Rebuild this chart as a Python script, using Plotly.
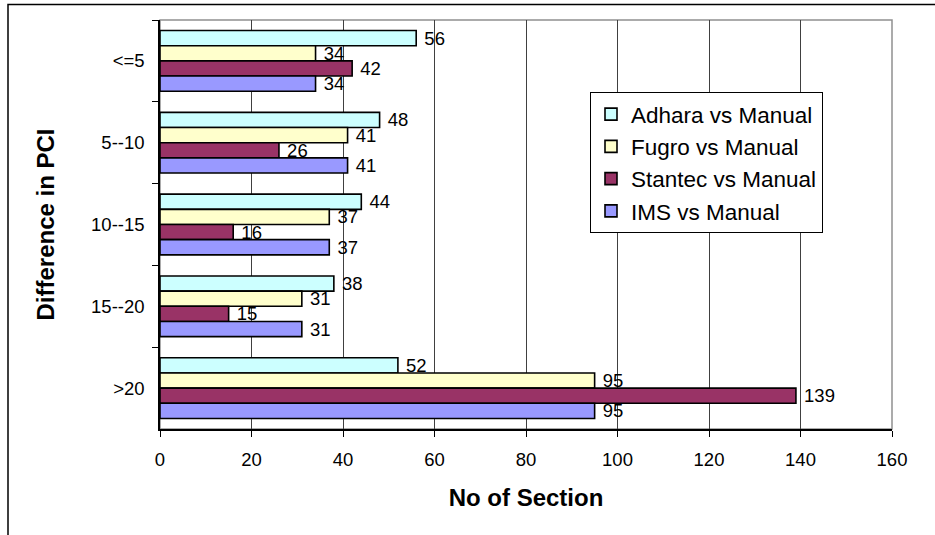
import plotly.graph_objects as go

categories = ["<=5", "5--10", "10--15", "15--20", ">20"]
series_names = ["Adhara vs Manual", "Fugro vs Manual", "Stantec vs Manual", "IMS vs Manual"]
adhara = [56, 48, 44, 38, 52]
fugro = [34, 41, 37, 31, 95]
stantec = [42, 26, 16, 15, 139]
ims = [34, 41, 37, 31, 95]
x_ticks = [0, 20, 40, 60, 80, 100, 120, 140, 160]

colors = ["#CCFFFF", "#FFFFCC", "#993366", "#9999FF"]
values = [adhara, fugro, stantec, ims]

FONT = "Liberation Sans, Arial, sans-serif"

fig = go.Figure()
for name, vals, col in zip(series_names, values, colors):
    fig.add_trace(go.Bar(
        y=categories, x=vals, name=name, orientation="h",
        marker=dict(color=col, line=dict(color="black", width=1.6)),
        text=["\u00a0" + str(v) for v in vals], textposition="outside",
        textfont=dict(family=FONT, size=18.5, color="black"),
        constraintext="none", cliponaxis=False,
        legendgroup=name,
    ))

L, R, T, B = 160, 43, 20, 106
W, H = 935, 535
pw, ph = W - L - R, H - T - B

def px(x):
    return (x - L) / pw

def py(y):
    return (H - B - y) / ph

fig.update_layout(
    width=W, height=H,
    margin=dict(l=L, r=R, t=T, b=B, autoexpand=False),
    paper_bgcolor="white", plot_bgcolor="rgba(0,0,0,0)",
    barmode="group", bargap=0.258, bargroupgap=0,
    font=dict(family=FONT, size=18, color="black"),
    showlegend=True,
    legend=dict(
        x=px(590), y=py(92), xanchor="left", yanchor="top",
        bgcolor="white", bordercolor="black", borderwidth=1,
        font=dict(family=FONT, size=22.5, color="black"),
        traceorder="grouped", tracegroupgap=0, itemwidth=30,
    ),
    xaxis=dict(
        range=[0, 160], tickvals=x_ticks, ticktext=[str(t) for t in x_ticks],
        ticks="outside", ticklen=6, tickcolor="black",
        showline=True, linecolor="black", linewidth=1.5,
        showgrid=True, gridcolor="#404040", gridwidth=1,
        zeroline=False,
        tickfont=dict(family=FONT, size=18.5, color="black"),
        ticklabelstandoff=7,
        title=dict(text="No of Section", font=dict(family=FONT, size=24, color="black", weight="bold"), standoff=20),
    ),
    yaxis=dict(
        type="category", categoryorder="array", categoryarray=categories,
        autorange="reversed",
        ticks="outside", ticklen=6, tickcolor="black", tickson="boundaries",
        showline=True, linecolor="black", linewidth=1.5,
        showgrid=False, zeroline=False,
        tickfont=dict(family=FONT, size=18.5, color="black"),
        ticklabelstandoff=10,
        title=dict(text="Difference in PCI", font=dict(family=FONT, size=24, color="black", weight="bold"), standoff=30),
    ),
    shapes=[
        dict(type="rect", xref="paper", yref="paper", x0=0, x1=1, y0=0, y1=1,
             line=dict(color="#909090", width=1.5), layer="below"),
        dict(type="rect", xref="paper", yref="paper",
             x0=px(8), x1=px(945), y0=py(545), y1=py(4.5),
             line=dict(color="black", width=1.5), layer="below"),
    ],
)

fig.write_html("out.html")
